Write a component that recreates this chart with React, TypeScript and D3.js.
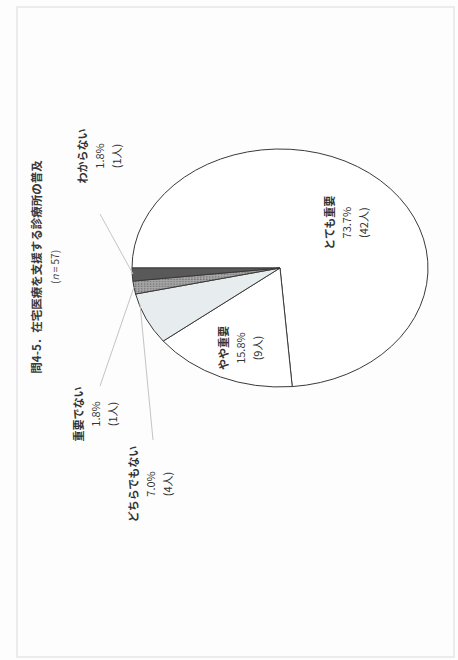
import React from 'react';
import * as d3 from 'd3';

const categories = ['とても重要', 'やや重要', 'どちらでもない', '重要でない', 'わからない'];
const counts = [42, 9, 4, 1, 1];
const percentLabels = ['73.7%', '15.8%', '7.0%', '1.8%', '1.8%'];
const countLabels = ['(42人)', '(9人)', '(4人)', '(1人)', '(1人)'];
const titleText = '問4-5．在宅医療を支援する診療所の普及';
const nValue = 57;

const W = 458;
const H = 660;
const CX = 280;
const CY = 268;
const RX = 148;
const RY = 119;
const R = 100;
const FONT = '"Noto Sans CJK JP", "Noto Sans", sans-serif';

const fills = ['#ffffff', '#ffffff', '#e7ecee', 'url(#dots)', '#595959'];

const labelLayout = [
  { inside: true, f: 0.62, dx: 5, dy: 9 },
  { inside: true, f: 0.68, dx: 2, dy: 6 },
  { inside: false, x: 151, y: 484, lead: [[153, 440], [140, 304]] },
  { inside: false, x: 96, y: 414, lead: [[100, 386], [134, 287]] },
  { inside: false, x: 100, y: 156, lead: [[100, 214], [133, 274]] },
];

export default function App() {
  const pie = d3.pie<number>().sort(null).value((d) => d)(counts);
  const arc = d3.arc<d3.PieArcDatum<number>>().innerRadius(0).outerRadius(R);
  const sx = RX / R;
  const sy = RY / R;
  const toScreen = (p: [number, number]): [number, number] => {
    const rx = p[1];
    const ry = -p[0];
    return [CX + rx * sx, CY + ry * sy];
  };
  const lineH = 17;
  return (
    <svg
      width={W}
      height={H}
      viewBox={`0 0 ${W} ${H}`}
      style={{ position: 'absolute', left: 0, top: 0, background: '#fdfdfd' }}
    >
      <defs>
        <pattern id="dots" width="2" height="2" patternUnits="userSpaceOnUse">
          <rect width="2" height="2" fill="#a8a8a8" />
          <rect width="1" height="1" fill="#6e6e6e" />
        </pattern>
      </defs>
      <rect x={17} y={7} width={437} height={650} fill="none" stroke="#e2e2e2" strokeWidth={1.2} />
      <g transform={`translate(${CX},${CY}) scale(${sx},${sy}) rotate(-90)`}>
        {pie.map((d, i) => (
          <path
            key={i}
            d={arc(d) || ''}
            fill={fills[i]}
            stroke="#3a3a3a"
            strokeWidth={1}
            vectorEffect="non-scaling-stroke"
          />
        ))}
      </g>
      {labelLayout.map((l, i) =>
        l.lead ? (
          <line
            key={'l' + i}
            x1={l.lead[0][0]}
            y1={l.lead[0][1]}
            x2={l.lead[1][0]}
            y2={l.lead[1][1]}
            stroke="#c4c4c4"
            strokeWidth={1}
          />
        ) : null
      )}
      {labelLayout.map((l, i) => {
        let x: number;
        let y: number;
        if (l.inside) {
          const c = d3
            .arc<d3.PieArcDatum<number>>()
            .innerRadius(0)
            .outerRadius(R * 2 * (l.f as number))
            .centroid(pie[i]) as [number, number];
          [x, y] = toScreen(c);
          x += l.dx as number;
          y += l.dy as number;
        } else {
          x = l.x as number;
          y = l.y as number;
        }
        const lines = [categories[i], percentLabels[i], countLabels[i]];
        return (
          <g key={'t' + i} transform={`translate(${x},${y}) rotate(-90)`}>
            {lines.map((t, j) => (
              <text
                key={j}
                x={0}
                y={(j - 1) * lineH}
                dy="0.35em"
                textAnchor="middle"
                fontFamily={FONT}
                fontSize={11}
                fill="#333"
                fontWeight={j === 0 ? 700 : 400}
              >
                {t}
              </text>
            ))}
          </g>
        );
      })}
      <g transform={`translate(37,267) rotate(-90)`}>
        <text
          x={0}
          y={0}
          dy="0.35em"
          textAnchor="middle"
          fontFamily={FONT}
          fontSize={11.5}
          fontWeight={700}
          fill="#3a3a3a"
        >
          {titleText}
        </text>
        <text
          x={0}
          y={18}
          dy="0.35em"
          textAnchor="middle"
          fontFamily={FONT}
          fontSize={10}
          fill="#444"
          style={{ whiteSpace: 'pre' }}
        >
          <tspan>(</tspan>
          <tspan fontStyle="italic">n</tspan>
          <tspan>{'\u00a0=\u00a0' + nValue + ')'}</tspan>
        </text>
      </g>
    </svg>
  );
}
